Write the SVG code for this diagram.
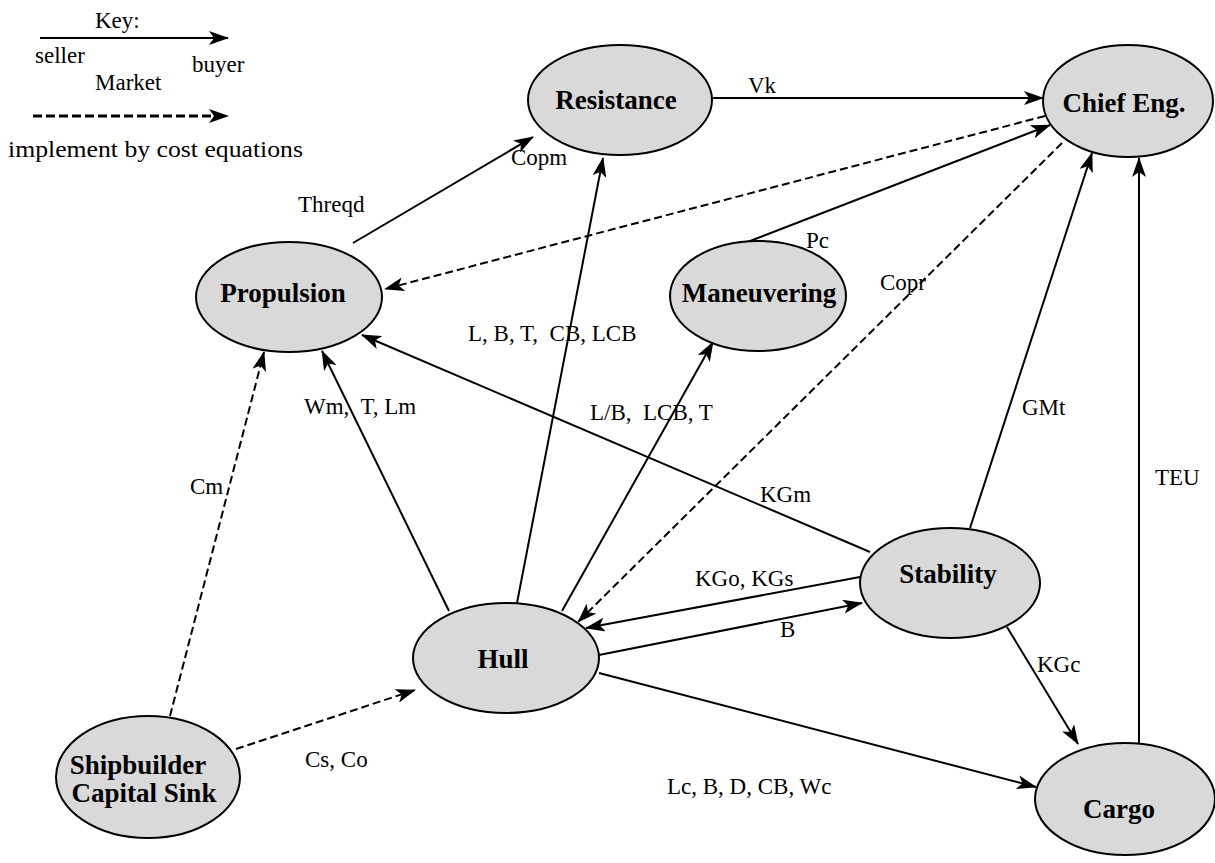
<svg xmlns="http://www.w3.org/2000/svg" width="1215" height="863" viewBox="0 0 1215 863">
<style>
.node ellipse{fill:#d9d9d9;stroke:#000;stroke-width:2}
.nt{font-family:"Liberation Serif","Times New Roman",serif;font-weight:bold;font-size:27px;text-anchor:middle;fill:#000}
.lb{font-family:"Liberation Serif","Times New Roman",serif;font-size:23px;fill:#000}
.e{fill:none;stroke:#000;stroke-width:2;marker-end:url(#ah)}
.d{fill:none;stroke:#000;stroke-width:2;stroke-dasharray:8,4;marker-end:url(#ah)}
</style>
<defs>
<marker id="ah" viewBox="0 0 20 14" refX="19" refY="7" markerWidth="20" markerHeight="14" markerUnits="userSpaceOnUse" orient="auto">
<path d="M0,0 L20,7 L0,14 L5,7 Z" fill="#000"/>
</marker>
</defs>
<rect width="1215" height="863" fill="#fff"/>
<g id="legend">
<text class="lb" x="95" y="28">Key:</text>
<line x1="40" y1="38" x2="228" y2="38" class="e"/>
<text class="lb" x="35" y="63">seller</text>
<text class="lb" x="192" y="72">buyer</text>
<text class="lb" x="95" y="90">Market</text>
<line x1="33" y1="116" x2="228" y2="116" class="e" style="stroke-width:3;stroke-dasharray:9,4"/>
<text class="lb" x="8" y="157" textLength="295" lengthAdjust="spacingAndGlyphs">implement by cost equations</text>
</g>
<g id="connectors">
<line class="e" x1="713" y1="98" x2="1043" y2="98"/>
<line class="e" x1="353" y1="243" x2="533" y2="137"/>
<line class="d" x1="1045" y1="116" x2="385" y2="289"/>
<line class="e" x1="745" y1="243" x2="1050" y2="125"/>
<line class="d" x1="1062" y1="143" x2="578" y2="622"/>
<line class="e" x1="449" y1="611" x2="322" y2="351"/>
<line class="e" x1="517" y1="603" x2="603" y2="158"/>
<line class="e" x1="562" y1="611" x2="713" y2="342"/>
<line class="e" x1="870" y1="552" x2="362" y2="335"/>
<line class="e" x1="860" y1="577" x2="586" y2="628"/>
<line class="e" x1="599" y1="655" x2="862" y2="603"/>
<line class="e" x1="599" y1="673" x2="1036" y2="787"/>
<line class="e" x1="1007" y1="627" x2="1078" y2="744"/>
<line class="e" x1="1139" y1="743" x2="1139" y2="158"/>
<line class="e" x1="970" y1="528" x2="1092" y2="153"/>
<line class="d" x1="170" y1="716" x2="264" y2="352"/>
<line class="d" x1="236" y1="749" x2="415" y2="690"/>
<g id="edge-labels">
<text class="lb" x="748" y="93">Vk</text>
<text class="lb" x="298" y="212">Threqd</text>
<text class="lb" x="511" y="165">Copm</text>
<text class="lb" x="806" y="248">Pc</text>
<text class="lb" x="880" y="290">Copr</text>
<text class="lb" x="468" y="341" xml:space="preserve">L, B, T,  CB, LCB</text>
<text class="lb" x="590" y="420" xml:space="preserve">L/B,  LCB, T</text>
<text class="lb" x="304" y="414" xml:space="preserve">Wm,  T, Lm</text>
<text class="lb" x="1022" y="415">GMt</text>
<text class="lb" x="1155" y="485">TEU</text>
<text class="lb" x="760" y="502">KGm</text>
<text class="lb" x="190" y="494">Cm</text>
<text class="lb" x="695" y="586">KGo, KGs</text>
<text class="lb" x="780" y="637">B</text>
<text class="lb" x="1037" y="672">KGc</text>
<text class="lb" x="305" y="767">Cs, Co</text>
<text class="lb" x="667" y="794">Lc, B, D, CB, Wc</text>
</g>
</g>
<g id="resistance" class="node"><ellipse cx="620" cy="100" rx="92" ry="55"/><text class="nt" x="616" y="109">Resistance</text></g>
<g id="chief-eng" class="node"><ellipse cx="1128" cy="101" rx="85" ry="56"/><text class="nt" x="1124" y="112">Chief Eng.</text></g>
<g id="propulsion" class="node"><ellipse cx="289" cy="297" rx="93" ry="55"/><text class="nt" x="283" y="302">Propulsion</text></g>
<g id="maneuvering" class="node"><ellipse cx="758" cy="296" rx="88" ry="55"/><text class="nt" x="759" y="302">Maneuvering</text></g>
<g id="hull" class="node"><ellipse cx="506" cy="658" rx="93" ry="55"/><text class="nt" x="503" y="668">Hull</text></g>
<g id="stability" class="node"><ellipse cx="950" cy="583" rx="90" ry="55"/><text class="nt" x="948" y="583">Stability</text></g>
<g id="cargo" class="node"><ellipse cx="1125" cy="799" rx="90" ry="56"/><text class="nt" x="1119" y="818">Cargo</text></g>
<g id="shipbuilder" class="node"><ellipse cx="148" cy="777" rx="92" ry="61"/><text class="nt" x="138" y="774">Shipbuilder</text><text class="nt" x="144" y="802">Capital Sink</text></g>
</svg>
